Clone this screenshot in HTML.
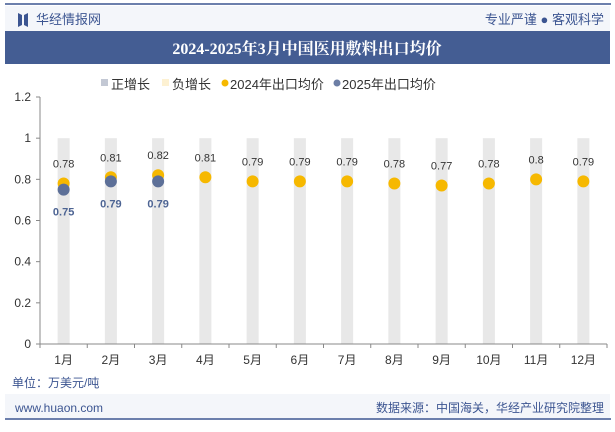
<!DOCTYPE html>
<html><head><meta charset="utf-8"><style>
body{margin:0;width:615px;height:427px;background:#fff;overflow:hidden;font-family:"Liberation Sans","Noto Sans CJK SC",sans-serif;}
</style></head><body>
<svg width="615" height="427" xmlns="http://www.w3.org/2000/svg" font-family="Liberation Sans, Noto Sans CJK SC, sans-serif">
<rect x="0" y="0" width="615" height="427" fill="#fff"/>
<rect x="5" y="6" width="605" height="25" fill="#f4f6fa"/>
<line x1="5" y1="4" x2="611" y2="4" stroke="#3c5591" stroke-width="1.5"/>
<path d="M18 13 L22 15 L22 25 L18 27 Z M24 15 L28 13 L28 27 L24 25 Z" fill="#3c5591"/>
<text x="36" y="24" font-size="13" fill="#3c5591">华经情报网</text>
<text x="604" y="24" font-size="13" fill="#3c5591" text-anchor="end">专业严谨 ● 客观科学</text>
<rect x="5" y="31" width="605" height="33" fill="#445d93"/>
<text x="307" y="54" font-size="16" font-weight="bold" fill="#fff" text-anchor="middle" font-family="Liberation Serif, Noto Serif CJK SC, serif">2024-2025年3月中国医用敷料出口均价</text>
<g font-size="13" fill="#333">
<rect x="101" y="79" width="7" height="7" fill="#c3c8d4"/><text x="111" y="89">正增长</text>
<rect x="162" y="79" width="7" height="7" fill="#fdf1d2"/><text x="172" y="89">负增长</text>
<circle cx="225" cy="83" r="3.5" fill="#f6b800"/><text x="230" y="89">2024年出口均价</text>
<circle cx="337" cy="83" r="3.5" fill="#6c7ea5"/><text x="342" y="89">2025年出口均价</text>
</g>
<g id="plot"></g>
<text x="12" y="387" font-size="12" fill="#3c5591">单位：万美元/吨</text>
<rect x="5" y="394" width="605" height="24" fill="#f4f6fa"/>
<line x1="5" y1="419" x2="611" y2="419" stroke="#3c5591" stroke-width="1.5"/>
<text x="15" y="412" font-size="12" fill="#3c5591">www.huaon.com</text>
<text x="604" y="412" font-size="12" fill="#3c5591" text-anchor="end">数据来源：中国海关，华经产业研究院整理</text>
</svg>
<script>
const categories=["1月","2月","3月","4月","5月","6月","7月","8月","9月","10月","11月","12月"];
const values2024=[0.78,0.81,0.82,0.81,0.79,0.79,0.79,0.78,0.77,0.78,0.8,0.79];
const values2025=[0.75,0.79,0.79];
const yTicks=[0,0.2,0.4,0.6,0.8,1,1.2];
const NS="http://www.w3.org/2000/svg";
const g=document.getElementById('plot');
const x0=40,x1=607,yBase=344,yTop=97,yMax=1.2;
const bw=(x1-x0)/categories.length;
const xs=i=>x0+bw*(i+0.5);
const ys=v=>yBase-(v/yMax)*(yBase-yTop);
function mk(t,a,txt){const e=document.createElementNS(NS,t);for(const k in a)e.setAttribute(k,a[k]);if(txt!==undefined)e.textContent=txt;g.appendChild(e);return e;}
categories.forEach((c,i)=>{
 const b=mk('rect',{x:xs(i)-6,y:ys(1),width:12,height:yBase-ys(1),fill:'#e8e8e8'});
 
 
});
const ax=mk('line',{x1:x0,y1:yBase,x2:x1,y2:yBase,stroke:'#888'});


const ay=mk('line',{x1:x0,y1:yTop,x2:x0,y2:yBase,stroke:'#888'});


yTicks.forEach(t=>{
 mk('line',{x1:x0-4,y1:ys(t),x2:x0,y2:ys(t),stroke:'#888'});
 const l=mk('text',{x:x0-9,y:ys(t)+4,'font-size':12,fill:'#333','text-anchor':'end'},String(t));
 
 
});
for(let i=0;i<=categories.length;i++)mk('line',{x1:x0+bw*i,y1:yBase,x2:x0+bw*i,y2:yBase+4,stroke:'#888'});
categories.forEach((c,i)=>{
 const l=mk('text',{x:xs(i),y:364,'font-size':12,fill:'#333','text-anchor':'middle'},c);
 
 
});
values2024.forEach((v,i)=>{
 const p=mk('circle',{cx:xs(i),cy:ys(v),r:6,fill:'#f6b800'});
 
 
 const l=mk('text',{x:xs(i),y:ys(v)-16,'font-size':11,fill:'#333','text-anchor':'middle'},String(v));
 
 
});
values2025.forEach((v,i)=>{
 const p=mk('circle',{cx:xs(i),cy:ys(v),r:6,fill:'#5d7098'});
 
 
 const l=mk('text',{x:xs(i),y:ys(v)+26,'font-size':11,'font-weight':'bold',fill:'#4d6493','text-anchor':'middle'},String(v));
 
 
});
</script>
</body></html>
